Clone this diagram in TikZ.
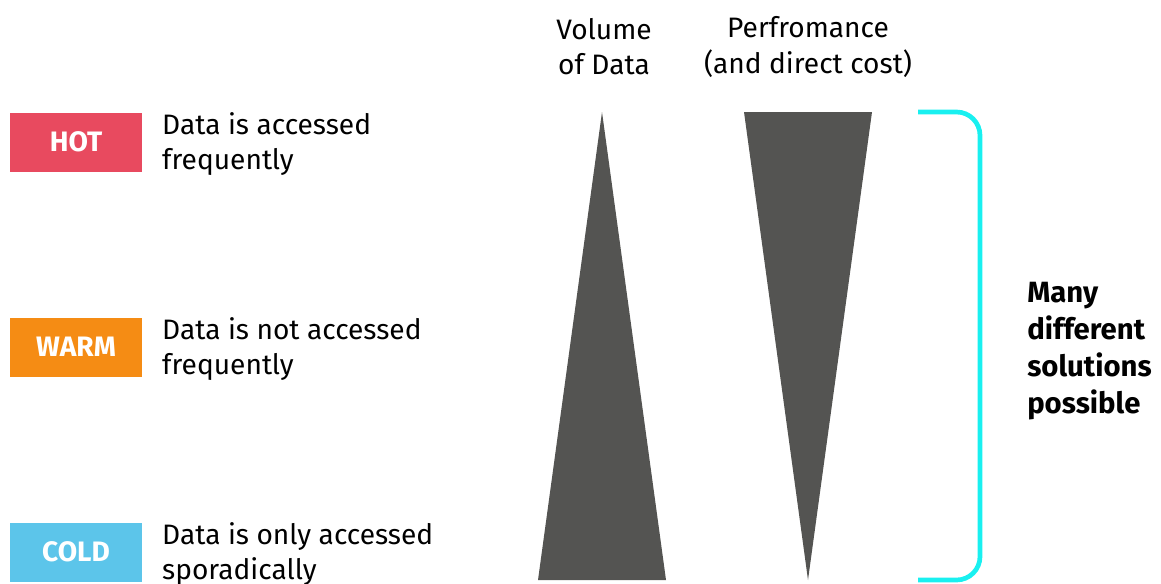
\documentclass[tikz,border=0pt]{standalone}
\usepackage{fontspec}
\setmainfont{Fira Sans}
\usetikzlibrary{positioning}

\definecolor{hotred}{RGB}{232,74,95}
\definecolor{warmorange}{RGB}{245,140,20}
\definecolor{coldblue}{RGB}{92,197,234}
\definecolor{wedgegray}{RGB}{84,84,82}
\definecolor{bracketcyan}{RGB}{25,240,240}

\tikzset{
    tier/.style={fill=#1, text=white, font=\fontsize{24}{26}\selectfont\bfseries, minimum width=3.96cm, minimum height=1.77cm, inner sep=0pt},
    desc/.style={anchor=west, align=left, inner sep=0pt, font=\fontsize{24}{30}\selectfont},
    head/.style={align=center, inner sep=0pt, font=\fontsize{24}{30}\selectfont},
    wedge/.style={fill=wedgegray, draw=none}
}

\begin{document}
\begin{tikzpicture}[x=0.03cm, y=-0.03cm]
    \useasboundingbox (0,0) rectangle (1161,583);

    \node[tier=hotred] (hot) at (76,142) {HOT};
    \node[tier=warmorange] (warm) at (76,347) {WARM};
    \node[tier=coldblue] (cold) at (76,552) {COLD};

    \node[desc] (hotdesc) at (162,144) {Data is accessed\\frequently};
    \node[desc] (warmdesc) at (162,349) {Data is not accessed\\frequently};
    \node[desc] (colddesc) at (162,554) {Data is only accessed\\sporadically};

    \node[head] (volume) at (604,47) {Volume\\of Data};
    \node[head] (perf) at (808,47) {Perfromance\\(and direct cost)};

    \fill[wedge] (602,112) -- (666,580) -- (538,580) -- cycle;
    \fill[wedge] (744,112) -- (872,112) -- (808,580) -- cycle;

    \draw[bracketcyan, line width=4pt, rounded corners=20] (918,112) -- (980,112) -- (980,580) -- (918,580);

    \node[desc, font=\fontsize{25}{31.5}\selectfont\bfseries] (many) at (1027,351) {Many\\different\\solutions\\possible};
\end{tikzpicture}
\end{document}
